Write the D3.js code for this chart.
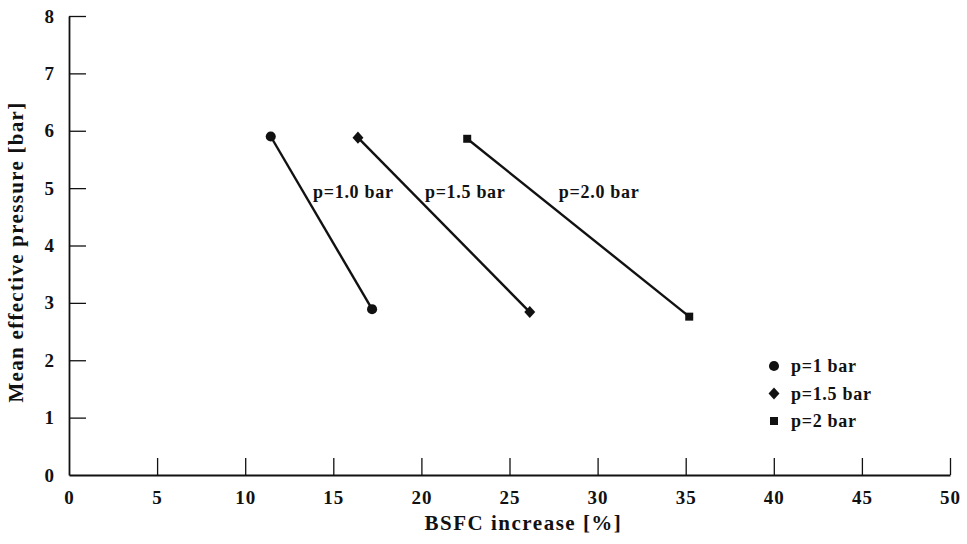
<!DOCTYPE html>
<html>
<head>
<meta charset="utf-8">
<script src="https://cdn.jsdelivr.net/npm/d3@7"></script>
<style>
  body { margin: 0; background: #fff; }
  text { font-family: "Liberation Serif", "Times New Roman", serif; font-weight: bold; fill: #111; }
  .axis path, .axis line { stroke: #111; }
  .axis text { font-size: 19px; letter-spacing: 1px; }
</style>
</head>
<body>
<div id="chart"></div>
<script>
// series: BSFC increase [%] vs mean effective pressure [bar]
let seriesNames = ['p=1 bar', 'p=1.5 bar', 'p=2 bar'];
let lineLabels = ['p=1.0 bar', 'p=1.5 bar', 'p=2.0 bar'];
let seriesBsfc = [[11.45, 17.2], [16.4, 26.15], [22.6, 35.2]];
let seriesPme = [[5.9, 2.89], [5.88, 2.84], [5.86, 2.76]];
let xTicks = [0, 5, 10, 15, 20, 25, 30, 35, 40, 45, 50];
let yTicks = [0, 1, 2, 3, 4, 5, 6, 7, 8];

// where the line labels sit (data units)
let labelX = [13.85, 20.2, 27.8];
let labelY = [4.83, 4.83, 4.83];

let width = 967, height = 544;
let margin = {left: 69, right: 17, top: 16, bottom: 69};

let svg = d3.select('#chart')
    .append('svg')
    .attr('width', width)
    .attr('height', height);

let x = d3.scaleLinear().domain([0, 50]).range([margin.left, width - margin.right]);
let y = d3.scaleLinear().domain([0, 8]).range([height - margin.bottom, margin.top]);

// wide diamond like the printed one (d3's own is too narrow)
let wideDiamond = {
    draw: function(ctx, size) {
        let r = Math.sqrt(size / 2);
        ctx.moveTo(0, -r * 1.1);
        ctx.lineTo(r, 0);
        ctx.lineTo(0, r * 1.1);
        ctx.lineTo(-r, 0);
        ctx.closePath();
    }
};
let symbols = [d3.symbolCircle, wideDiamond, d3.symbolSquare];
let symSizes = [80, 60, 64];

// x axis, ticks point inward
let xAxis = svg.append('g')
    .attr('class', 'axis')
    .attr('transform', 'translate(0,' + y(0) + ')')
    .call(d3.axisBottom(x).tickValues(xTicks).tickSize(-17).tickSizeOuter(0));
xAxis.select('.domain').attr('stroke-width', 1.8);
xAxis.selectAll('.tick line').attr('stroke-width', 1.3)
    .filter(function(d) { return d === 0; }).remove();
xAxis.selectAll('.tick text').attr('dy', '0.72em').attr('y', 15);

let yAxis = svg.append('g')
    .attr('class', 'axis')
    .attr('transform', 'translate(' + x(0) + ',0)')
    .call(d3.axisLeft(y).tickValues(yTicks).tickSize(-17).tickSizeOuter(0).tickPadding(14));
yAxis.select('.domain').attr('stroke-width', 1.8);
yAxis.selectAll('.tick line').attr('stroke-width', 1.3)
    .filter(function(d) { return d === 0; }).remove();
svg.selectAll('.axis').attr('font-family', null).attr('font-size', null);

// axis titles
svg.append('text')
    .attr('x', (x(0) + x(50)) / 2 + 14)
    .attr('y', 530)
    .attr('text-anchor', 'middle')
    .style('font-size', '21px')
    .style('letter-spacing', '1.5px')
    .text('BSFC increase [%]');

svg.append('text')
    .attr('transform', 'translate(23,252) rotate(-90)')
    .attr('text-anchor', 'middle')
    .style('font-size', '21px')
    .style('letter-spacing', '1.3px')
    .text('Mean effective pressure [bar]');

// lines + markers
let lineGen = d3.line().x(function(d) { return x(d[0]); }).y(function(d) { return y(d[1]); });

seriesNames.forEach(function(name, i) {
    let pts = seriesBsfc[i].map(function(v, j) { return [v, seriesPme[i][j]]; });

    svg.append('path')
        .attr('d', lineGen(pts))
        .attr('fill', 'none')
        .attr('stroke', '#111')
        .attr('stroke-width', 2.4);

    svg.selectAll('.pt' + i)
        .data(pts)
        .enter()
        .append('path')
        .attr('class', 'pt' + i)
        .attr('d', d3.symbol().type(symbols[i]).size(symSizes[i]))
        .attr('transform', function(d) { return 'translate(' + x(d[0]) + ',' + y(d[1]) + ')'; })
        .attr('fill', '#111');

    svg.append('text')
        .attr('x', x(labelX[i]))
        .attr('y', y(labelY[i]))
        .style('font-size', '18px')
        .style('letter-spacing', '0.7px')
        .text(lineLabels[i]);
});

// legend
let legend = svg.append('g').attr('transform', 'translate(774,366)');
let legendRows = legend.selectAll('g')
    .data(seriesNames)
    .enter()
    .append('g')
    .attr('transform', function(d, i) { return 'translate(0,' + (i * 27.5) + ')'; });

legendRows.append('path')
    .attr('d', function(d, i) { return d3.symbol().type(symbols[i]).size(symSizes[i])(); })
    .attr('fill', '#111');

legendRows.append('text')
    .attr('x', 17)
    .attr('y', 6)
    .style('font-size', '18px')
    .style('letter-spacing', '0.7px')
    .text(function(d) { return d; });
</script>
</body>
</html>
